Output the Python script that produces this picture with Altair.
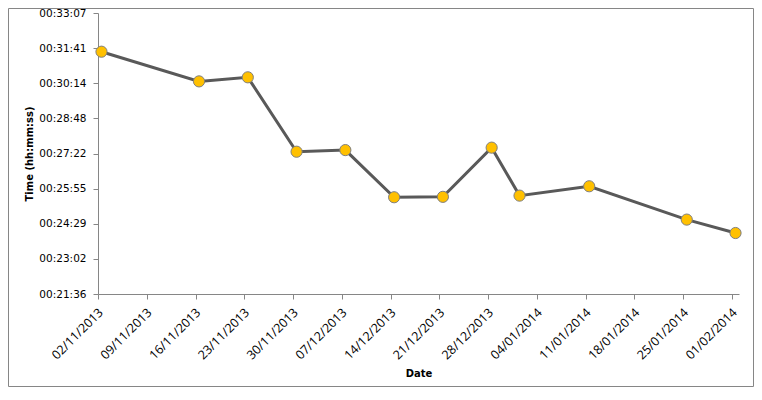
import altair as alt
import pandas as pd

# Data
dates = ["2013-11-02", "2013-11-16", "2013-11-23", "2013-11-30", "2013-12-07",
         "2013-12-14", "2013-12-21", "2013-12-28", "2014-01-01", "2014-01-11",
         "2014-01-25", "2014-02-01"]
# times in seconds
times = [1892, 1819, 1829, 1646, 1650, 1534, 1535, 1656, 1538, 1561, 1479, 1446]

y_ticks = [1296.0, 1382.4, 1468.8, 1555.2, 1641.6, 1728.0, 1814.4, 1900.8, 1987.2]
x_tick_dates = [(2013, 11, 2), (2013, 11, 9), (2013, 11, 16), (2013, 11, 23), (2013, 11, 30),
                (2013, 12, 7), (2013, 12, 14), (2013, 12, 21), (2013, 12, 28),
                (2014, 1, 4), (2014, 1, 11), (2014, 1, 18), (2014, 1, 25), (2014, 2, 1)]

df = pd.DataFrame({"date": dates, "time": times})

W, H = 641, 281
AXIS_COLOR = "#868686"

x_enc = alt.X(
    "date:T",
    scale=alt.Scale(
        type="utc",
        nice=False,
        domain=[alt.DateTime(year=2013, month=11, date=1, hours=12, utc=True),
                alt.DateTime(year=2014, month=2, date=1, hours=12, utc=True)],
    ),
    axis=alt.Axis(
        values=[alt.DateTime(year=y, month=m, date=d, utc=True) for (y, m, d) in x_tick_dates],
        tickCount=30,
        labelExpr="utcFormat(datum.value, '%d/%m/%Y')",
        labelAngle=-45,
        labelAlign="right",
        labelBaseline="middle",
        labelFont="Open Sans",
        labelFontSize=12.5,
        labelColor="#000000",
        labelPadding=11,
        labelOffset=2.5,
        labelOverlap=False,
        labelFlush=False,
        tickOffset=-3.5,
        tickSize=5,
        tickColor=AXIS_COLOR,
        domainColor=AXIS_COLOR,
        grid=False,
        title="Date",
        titleFont="DejaVu Sans",
        titleFontSize=10,
        titleFontWeight="bold",
        titleColor="#000000",
        titleBaseline="middle",
        titleX=W / 2,
        titleY=79,
    ),
)

y_enc = alt.Y(
    "time:Q",
    scale=alt.Scale(domain=[1296.0, 1987.2], nice=False, zero=False),
    axis=alt.Axis(
        values=y_ticks,
        tickCount=20,
        labelExpr="utcFormat(round(datum.value) * 1000, '%H:%M:%S')",
        labelFont="DejaVu Sans",
        labelFontSize=10.5,
        labelColor="#000000",
        labelPadding=7,
        labelOverlap=False,
        labelFlush=False,
        tickSize=5,
        tickColor=AXIS_COLOR,
        domainColor=AXIS_COLOR,
        grid=False,
        title="Time (hh:mm:ss)",
        titleFont="DejaVu Sans",
        titleFontSize=10,
        titleFontWeight="bold",
        titleColor="#000000",
        titleBaseline="middle",
        titleX=-69,
        titleY=H / 2,
    ),
)

base = alt.Chart(df)
line = base.mark_line(color="#595959", strokeWidth=3).encode(x=x_enc, y=y_enc)
points = base.mark_point(
    filled=True, fill="#FFC000", stroke="#7F7F7F", strokeWidth=1, size=125, opacity=1
).encode(x="date:T", y="time:Q")

frame = alt.Chart(pd.DataFrame({"a": [0]})).mark_rect(
    fill="transparent", stroke=AXIS_COLOR, strokeWidth=1
).encode(
    x=alt.value(-89.5), x2=alt.value(655.5), y=alt.value(-4.5), y2=alt.value(373.5)
)

chart = alt.layer(frame, line, points).properties(
    width=W,
    height=H,
    autosize=alt.AutoSizeParams(type="none"),
    padding={"left": 90, "top": 5, "right": 15, "bottom": 93},
    background="#FFFFFF",
).configure_view(strokeWidth=0)

chart.save("out.html", embed_options={"renderer": "svg", "actions": False})
